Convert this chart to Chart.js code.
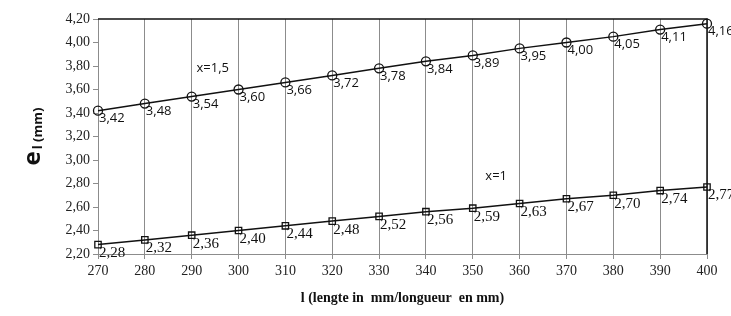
<!DOCTYPE html>
<html>
<head>
<meta charset="utf-8">
<script src="https://cdn.jsdelivr.net/npm/chart.js@4/dist/chart.umd.min.js"></script>
<style>
  html, body { margin: 0; padding: 0; background: #fff; }
  #wrap { width: 731px; height: 316px; position: relative; }
</style>
</head>
<body>
<div id="wrap"><canvas id="chart"></canvas></div>
<script>
// Data
const lengths = [270, 280, 290, 300, 310, 320, 330, 340, 350, 360, 370, 380, 390, 400];
const seriesX15 = [3.42, 3.48, 3.54, 3.60, 3.66, 3.72, 3.78, 3.84, 3.89, 3.95, 4.00, 4.05, 4.11, 4.16];
const seriesX1 = [2.28, 2.32, 2.36, 2.40, 2.44, 2.48, 2.52, 2.56, 2.59, 2.63, 2.67, 2.70, 2.74, 2.77];
const seriesNames = ['x=1,5', 'x=1'];

const sansFont = '"Open Sans", "Liberation Sans", sans-serif';
const serifFont = '"Liberation Serif", "DejaVu Serif", serif';

function fmt(v) {
    return v.toFixed(2).replace('.', ',');
}

// Draw the frame, data labels, series names and axis titles
const extrasPlugin = {
    id: 'extras',
    afterDatasetsDraw(chart) {
        const ctx = chart.ctx;
        const area = chart.chartArea;
        ctx.save();

        // top and right frame lines
        ctx.strokeStyle = '#111';
        ctx.lineWidth = 1.5;
        ctx.beginPath();
        ctx.moveTo(area.left, area.top);
        ctx.lineTo(area.right, area.top);
        ctx.lineTo(area.right, area.bottom);
        ctx.stroke();

        // data labels
        ctx.fillStyle = '#111';
        ctx.textAlign = 'left';
        ctx.textBaseline = 'top';
        chart.data.datasets.forEach((ds, i) => {
            const meta = chart.getDatasetMeta(i);
            ctx.font = i === 0 ? '13px ' + sansFont : '15px ' + serifFont;
            meta.data.forEach((pt, j) => {
                ctx.fillText(fmt(ds.data[j].y), pt.x + 1, pt.y + 1);
            });
        });

        // series names
        const xs = chart.scales.x;
        const ys = chart.scales.y;
        ctx.font = '13px ' + sansFont;
        ctx.textAlign = 'center';
        ctx.textBaseline = 'middle';
        ctx.fillText(seriesNames[0], xs.getPixelForValue(294.5), ys.getPixelForValue(3.78));
        ctx.fillText(seriesNames[1], xs.getPixelForValue(355), ys.getPixelForValue(2.86));

        // x axis title
        ctx.font = 'bold 14px ' + serifFont;
        ctx.fillText('l (lengte in  mm/longueur  en mm)', (area.left + area.right) / 2, 298);

        // y axis title, rotated, with subscript
        ctx.translate(32, (area.top + area.bottom) / 2);
        ctx.rotate(-Math.PI / 2);
        ctx.textAlign = 'left';
        ctx.textBaseline = 'alphabetic';
        ctx.font = 'bold 24px ' + sansFont;
        const eWidth = ctx.measureText('e').width;
        ctx.font = 'bold 13px ' + sansFont;
        const subWidth = ctx.measureText('l (mm)').width;
        const start = -(eWidth + subWidth + 2) / 2;
        ctx.font = 'bold 24px ' + sansFont;
        ctx.fillText('e', start, 8);
        ctx.font = 'bold 13px ' + sansFont;
        ctx.fillText('l (mm)', start + eWidth + 2, 10);

        ctx.restore();
    }
};

new Chart(document.getElementById('chart'), {
    type: 'line',
    data: {
        datasets: [
            {
                label: seriesNames[0],
                data: lengths.map((l, i) => ({ x: l, y: seriesX15[i] })),
                borderColor: '#111',
                borderWidth: 1.5,
                pointStyle: 'circle',
                pointRadius: 4.5,
                pointBorderWidth: 1.3,
                pointBorderColor: '#111',
                pointBackgroundColor: 'rgba(0,0,0,0)',
                tension: 0,
                clip: false
            },
            {
                label: seriesNames[1],
                data: lengths.map((l, i) => ({ x: l, y: seriesX1[i] })),
                borderColor: '#111',
                borderWidth: 1.5,
                pointStyle: 'rect',
                pointRadius: 4.5,
                pointBorderWidth: 1.3,
                pointBorderColor: '#111',
                pointBackgroundColor: 'rgba(0,0,0,0)',
                tension: 0,
                clip: false
            }
        ]
    },
    options: {
        responsive: true,
        maintainAspectRatio: false,
        animation: false,
        layout: { padding: { left: 50, right: 24, top: 19, bottom: 0 } },
        plugins: {
            legend: { display: false },
            tooltip: { enabled: false }
        },
        scales: {
            x: {
                type: 'linear',
                min: 270,
                max: 400,
                afterFit(scale) { scale.height = 62; },
                ticks: {
                    stepSize: 10,
                    color: '#222',
                    font: { family: serifFont, size: 14 },
                    padding: 4,
                    maxRotation: 0
                },
                grid: {
                    color: '#8c8c8c',
                    lineWidth: 1,
                    drawTicks: true,
                    tickLength: 5
                },
                border: { color: '#8c8c8c', width: 1 }
            },
            y: {
                min: 2.2,
                max: 4.2,
                afterFit(scale) { scale.width = 48; },
                ticks: {
                    stepSize: 0.2,
                    color: '#222',
                    font: { family: serifFont, size: 14 },
                    padding: 3,
                    callback: v => fmt(v)
                },
                grid: {
                    drawOnChartArea: false,
                    color: '#8c8c8c',
                    drawTicks: true,
                    tickLength: 5
                },
                border: { color: '#8c8c8c', width: 1 }
            }
        }
    },
    plugins: [extrasPlugin]
});
</script>
</body>
</html>
